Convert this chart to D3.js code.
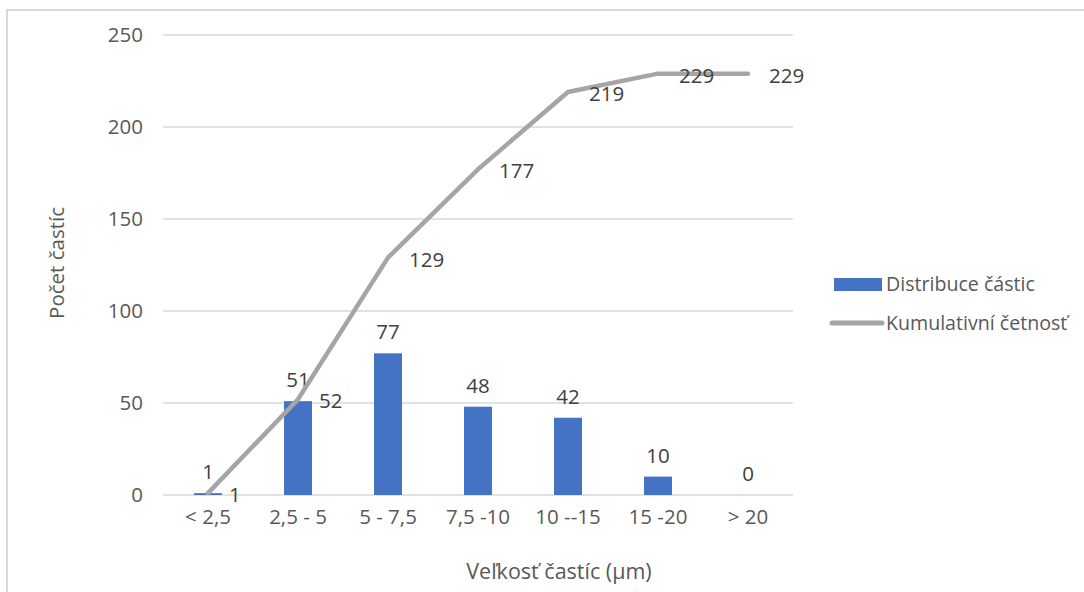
<!DOCTYPE html>
<html><head><meta charset="utf-8">
<script src="https://cdn.jsdelivr.net/npm/d3@7"></script>
<style>body{margin:0;background:#fff}svg{display:block}text{font-family:"Open Sans",sans-serif}</style>
</head><body>
<svg id="c" width="1084" height="592"></svg>
<script>
const categories = ["< 2,5","2,5 - 5","5 - 7,5","7,5 -10","10 --15","15 -20","> 20"];
const distribution = [1,51,77,48,42,10,0];
const cumulative = [1,52,129,177,219,229,229];
const yTicks = [0,50,100,150,200,250];
const seriesNames = ["Distribuce částic","Kumulativní četnosť"];
const axisTitles = {x:"Veľkosť častíc (µm)", y:"Počet častíc"};

const svg = d3.select("#c");
const FS = 20.5;
// frame
svg.append("rect").attr("x",7).attr("y",10).attr("width",1090).attr("height",600)
  .attr("fill","none").attr("stroke","#d9d9d9").attr("stroke-width",2);

const y = d3.scaleLinear().domain([0,250]).range([495,35]);
const xPt = d3.scaleBand().domain(categories).range([163,793]).padding(0);
const xBar = d3.scaleBand().domain(categories).range([163,793]).paddingInner(0.689).paddingOuter(0.3445);
const cx = c => xPt(c) + xPt.bandwidth()/2;

// gridlines
svg.append("g").selectAll("line").data(yTicks).join("line")
  .attr("x1",163).attr("x2",793).attr("y1",d=>y(d)).attr("y2",d=>y(d))
  .attr("stroke","#d9d9d9").attr("stroke-width",1.5);

// y axis labels
const yAxis = svg.append("g").attr("transform","translate(143,0)")
  .call(d3.axisLeft(y).tickValues(yTicks).tickSize(0).tickPadding(0));
yAxis.select(".domain").remove();
yAxis.selectAll("text").attr("font-size",FS).attr("fill","#595959").attr("font-family","Open Sans");

// x axis labels
const xAxis = svg.append("g").attr("transform","translate(0,509)")
  .call(d3.axisBottom(xPt).tickSize(0).tickPadding(0));
xAxis.select(".domain").remove();
xAxis.selectAll("text").attr("font-size",FS).attr("fill","#595959").attr("font-family","Open Sans").attr("dy","0.71em");

// bars
svg.append("g").selectAll("rect").data(distribution).join("rect")
  .attr("x",(d,i)=>xBar(categories[i])).attr("width",xBar.bandwidth())
  .attr("y",d=>y(d)).attr("height",d=>y(0)-y(d)).attr("fill","#4472C4");

// bar labels
svg.append("g").selectAll("text").data(distribution).join("text")
  .attr("x",(d,i)=>cx(categories[i])).attr("y",d=>y(d)-21).attr("dy","0.35em")
  .attr("text-anchor","middle").attr("font-size",FS).attr("fill","#404040").text(d=>d);

// line
const line = d3.line().x((d,i)=>cx(categories[i])).y(d=>y(d));
svg.append("path").datum(cumulative).attr("d",line).attr("fill","none")
  .attr("stroke","#A5A5A5").attr("stroke-width",4.5).attr("stroke-linejoin","round").attr("stroke-linecap","round");

// line labels
svg.append("g").selectAll("text").data(cumulative).join("text")
  .attr("x",(d,i)=>cx(categories[i])+21).attr("y",d=>y(d)+2).attr("dy","0.35em")
  .attr("text-anchor","start").attr("font-size",FS).attr("fill","#404040").text(d=>d);

// legend
svg.append("rect").attr("x",834).attr("y",278).attr("width",48).attr("height",13).attr("fill","#4472C4");
svg.append("line").attr("x1",832).attr("x2",882).attr("y1",323).attr("y2",323)
  .attr("stroke","#A5A5A5").attr("stroke-width",5).attr("stroke-linecap","round");
svg.append("g").selectAll("text").data(seriesNames).join("text")
  .attr("x",886).attr("y",(d,i)=>i?323:284).attr("dy","0.35em")
  .attr("font-size",19.6).attr("fill","#595959").text(d=>d);

// axis titles
svg.append("text").attr("x",559).attr("y",571).attr("dy","0.35em").attr("text-anchor","middle")
  .attr("font-size",21.5).attr("fill","#595959").text(axisTitles.x);
svg.append("text").attr("transform","translate(57,263) rotate(-90)").attr("dy","0.35em").attr("text-anchor","middle")
  .attr("font-size",FS).attr("fill","#595959").text(axisTitles.y);
</script>
</body></html>
